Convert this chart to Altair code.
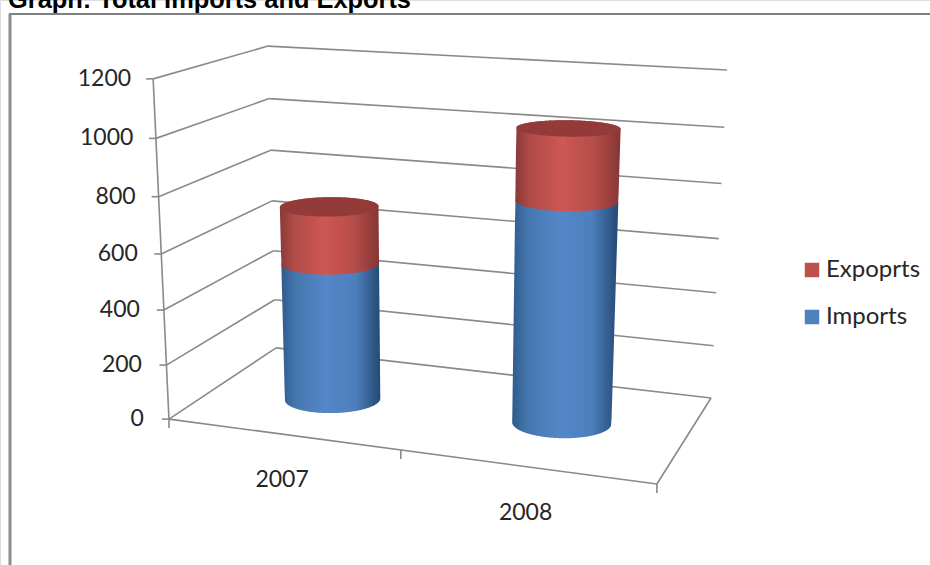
import numpy as np
import pandas as pd
import altair as alt

# Chart values
years = ["2007", "2008"]
imports = [510, 795]
exports = [207, 248]
value_ticks = [0, 200, 400, 600, 800, 1000, 1200]
series_names = ["Expoprts", "Imports"]
series_colors = ["#c0504d", "#4f81bd"]
title_text = "Graph: Total Imports and Exports"

W, H = 930, 565
V_MAX = 1200

# Where each cylinder stands on the floor of the box
CYL_ALONG = (0.26, 0.748)
CYL_DEPTH = (0.45, 0.5)

# Camera calibration for the 3-D box: (along, depth, value) -> canvas position
box_world = np.array([
    (0, 0, 0), (0, 0, 1200), (0, 1, 0), (0, 1, 1200),
    (1, 1, 0), (1, 1, 1200), (1, 0, 0),
], dtype=float)
box_canvas = np.array([
    (169, 419), (153, 79), (276, 348), (268, 46),
    (711, 398), (727, 70), (657, 484),
], dtype=float)


def fit_camera(world, canvas):
    rows, rhs = [], []
    for (a, d, v), (sx, sy) in zip(world, canvas):
        rows.append([a, d, v, 1, 0, 0, 0, 0, -sx * a, -sx * d, -sx * v])
        rhs.append(sx)
        rows.append([0, 0, 0, 0, a, d, v, 1, -sy * a, -sy * d, -sy * v])
        rhs.append(sy)
    sol = np.linalg.lstsq(np.array(rows), np.array(rhs), rcond=None)[0]
    return np.append(sol, 1.0).reshape(3, 4)


CAM = fit_camera(box_world, box_canvas)


def project(a, d, v):
    p = CAM @ np.array([a, d, v, 1.0])
    return p[0] / p[2], p[1] / p[2]


def segment(x1, y1, x2, y2):
    return {"x": x1, "y": y1, "x2": x2, "y2": y2}


# Wall gridlines, value ticks, floor edges and category ticks
grid, labels = [], []
for v in value_ticks:
    fl = project(0, 0, v)
    bl = project(0, 1, v)
    br = project(1, 1, v)
    grid.append(segment(*fl, *bl))
    grid.append(segment(*bl, *br))
    grid.append(segment(fl[0] - 7, fl[1], fl[0], fl[1]))
    labels.append({"x": fl[0] - 22 - (V_MAX - v) * 0.0025, "y": fl[1], "text": str(v)})
grid.append(segment(*project(0, 0, 0), *project(0, 0, V_MAX)))
grid.append(segment(*project(0, 0, 0), *project(1, 0, 0)))
grid.append(segment(*project(1, 0, 0), *project(1, 1, 0)))
for a in (0, 0.5, 1):
    fx, fy = project(a, 0, 0)
    grid.append(segment(fx, fy, fx, fy + 9))

# Ground-plane offsets whose image is a level ellipse
au = np.array(project(1, 0.5, 0)) - np.array(project(0, 0.5, 0))
ad = np.array(project(0.5, 1, 0)) - np.array(project(0.5, 0, 0))
basis = np.column_stack([au, ad])
e_wide = np.linalg.solve(basis, [48.5, 0.0])
e_tall = np.linalg.solve(basis, [0.0, 14.5])
THETA = np.linspace(0, 2 * np.pi, 73)[:-1]


def ring(a, d, v):
    return np.array([
        project(a + np.cos(t) * e_wide[0] + np.sin(t) * e_tall[0],
                d + np.cos(t) * e_wide[1] + np.sin(t) * e_tall[1], v)
        for t in THETA
    ])


def spans(points):
    """Upper and lower edge of a convex outline, sampled column by column."""
    pts = points[np.lexsort((points[:, 1], points[:, 0]))]

    def half(seq):
        out = []
        for p in seq:
            while len(out) > 1 and np.cross(out[-1] - out[-2], p - out[-2]) <= 0:
                out.pop()
            out.append(p)
        return np.array(out)

    lower = half(pts)
    upper = half(pts[::-1])[::-1]
    xs = np.arange(np.floor(pts[0, 0]) + 0.5, pts[-1, 0], 0.5)
    xs = np.concatenate([[pts[0, 0]], xs, [pts[-1, 0]]])
    return pd.DataFrame({
        "x": xs,
        "y": np.interp(xs, upper[:, 0], upper[:, 1]),
        "y2": np.interp(xs, lower[:, 0], lower[:, 1]),
    })


def shade(edge_l, shoulder_l, mid, shoulder_r, edge_r):
    return alt.Gradient(
        gradient="linear", x1=0, y1=0, x2=1, y2=0,
        stops=[
            alt.GradientStop(offset=0, color=edge_l),
            alt.GradientStop(offset=0.15, color=shoulder_l),
            alt.GradientStop(offset=0.45, color=mid),
            alt.GradientStop(offset=0.75, color=shoulder_r),
            alt.GradientStop(offset=1, color=edge_r),
        ],
    )


BLUE = shade("#2f5b8d", "#4577ae", "#5487c9", "#4d7fbc", "#244a75")
RED = shade("#8a3a38", "#b04b48", "#ce5755", "#b54c49", "#853634")

sx = alt.Scale(domain=[0, W], range=[0, W])
sy = alt.Scale(domain=[0, H], range=[0, H])
X = alt.X("x:Q", scale=sx, axis=None)
Y = alt.Y("y:Q", scale=sy, axis=None)

line_layer = (
    alt.Chart(pd.DataFrame(grid))
    .mark_rule(color="#8a8a8a", strokeWidth=1.6)
    .encode(X, Y, x2="x2:Q", y2="y2:Q")
)
tick_text = (
    alt.Chart(pd.DataFrame(labels))
    .mark_text(align="right", baseline="middle", font="Lato", fontSize=23, color="#262626")
    .encode(X, Y, text="text:N")
)
year_labels = []
for i, name in enumerate(years):
    fx, fy = project(0.25 + 0.5 * i, 0, 0)
    year_labels.append({"x": fx, "y": fy + 46, "text": name})
year_text = (
    alt.Chart(pd.DataFrame(year_labels))
    .mark_text(align="center", baseline="middle", font="Lato", fontSize=23, color="#262626")
    .encode(X, Y, text="text:N")
)

# Small anchors at each cylinder's axis carry the series legend
anchors = []
bodies = []
for i, name in enumerate(years):
    a, d = CYL_ALONG[i], CYL_DEPTH[i]
    v0, v1, v2 = 0, imports[i], imports[i] + exports[i]
    anchors.append(dict(zip(("x", "y"), project(a, d, v1 / 2)), series="Imports"))
    anchors.append(dict(zip(("x", "y"), project(a, d, v1 + exports[i] / 2)), series="Expoprts"))
    r0, r1, r2 = ring(a, d, v0), ring(a, d, v1), ring(a, d, v2)
    bodies.append(
        alt.Chart(spans(np.vstack([r0, r1]))).mark_area(color=BLUE).encode(X, Y, y2="y2:Q")
    )
    bodies.append(
        alt.Chart(spans(np.vstack([r1, r2]))).mark_area(color=RED).encode(X, Y, y2="y2:Q")
    )
    bodies.append(
        alt.Chart(spans(r2)).mark_area(color="#923b39").encode(X, Y, y2="y2:Q")
    )

legend_layer = (
    alt.Chart(pd.DataFrame(anchors))
    .mark_square(size=4, opacity=1)
    .encode(
        X, Y,
        color=alt.Color(
            "series:N",
            scale=alt.Scale(domain=series_names, range=series_colors),
            legend=alt.Legend(
                title=None, orient="none", legendX=800, legendY=258,
                symbolType="square", symbolSize=210, symbolStrokeWidth=0,
                labelFont="Lato", labelFontSize=24, labelColor="#262626",
                labelOffset=2, rowPadding=23, symbolOpacity=1,
            ),
        ),
    )
)

frame_top = (
    alt.Chart(pd.DataFrame([segment(9, 14, W, 14)]))
    .mark_rule(color="#808080", strokeWidth=2)
    .encode(X, Y, x2="x2:Q", y2="y2:Q")
)
frame_left = (
    alt.Chart(pd.DataFrame([segment(10, 14, 10, H)]))
    .mark_rule(color="#8c8c8c", strokeWidth=3)
    .encode(X, Y, x2="x2:Q", y2="y2:Q")
)
heading = (
    alt.Chart(pd.DataFrame([{"x": 8, "y": 8, "text": title_text}]))
    .mark_text(align="left", baseline="alphabetic", font="Liberation Sans",
               fontWeight="bold", fontSize=25.4, color="#000000")
    .encode(X, Y, text="text:N")
)

chart = (
    alt.layer(frame_top, frame_left, heading, line_layer, tick_text, year_text,
              legend_layer, *bodies)
    .resolve_scale(color="independent")
    .properties(width=W, height=H, padding=0, autosize=alt.AutoSizeParams(type="none"))
    .configure_view(stroke=None)
    .configure(background="#ffffff")
)
chart.save("out.html", embed_options={"renderer": "svg", "actions": False})
